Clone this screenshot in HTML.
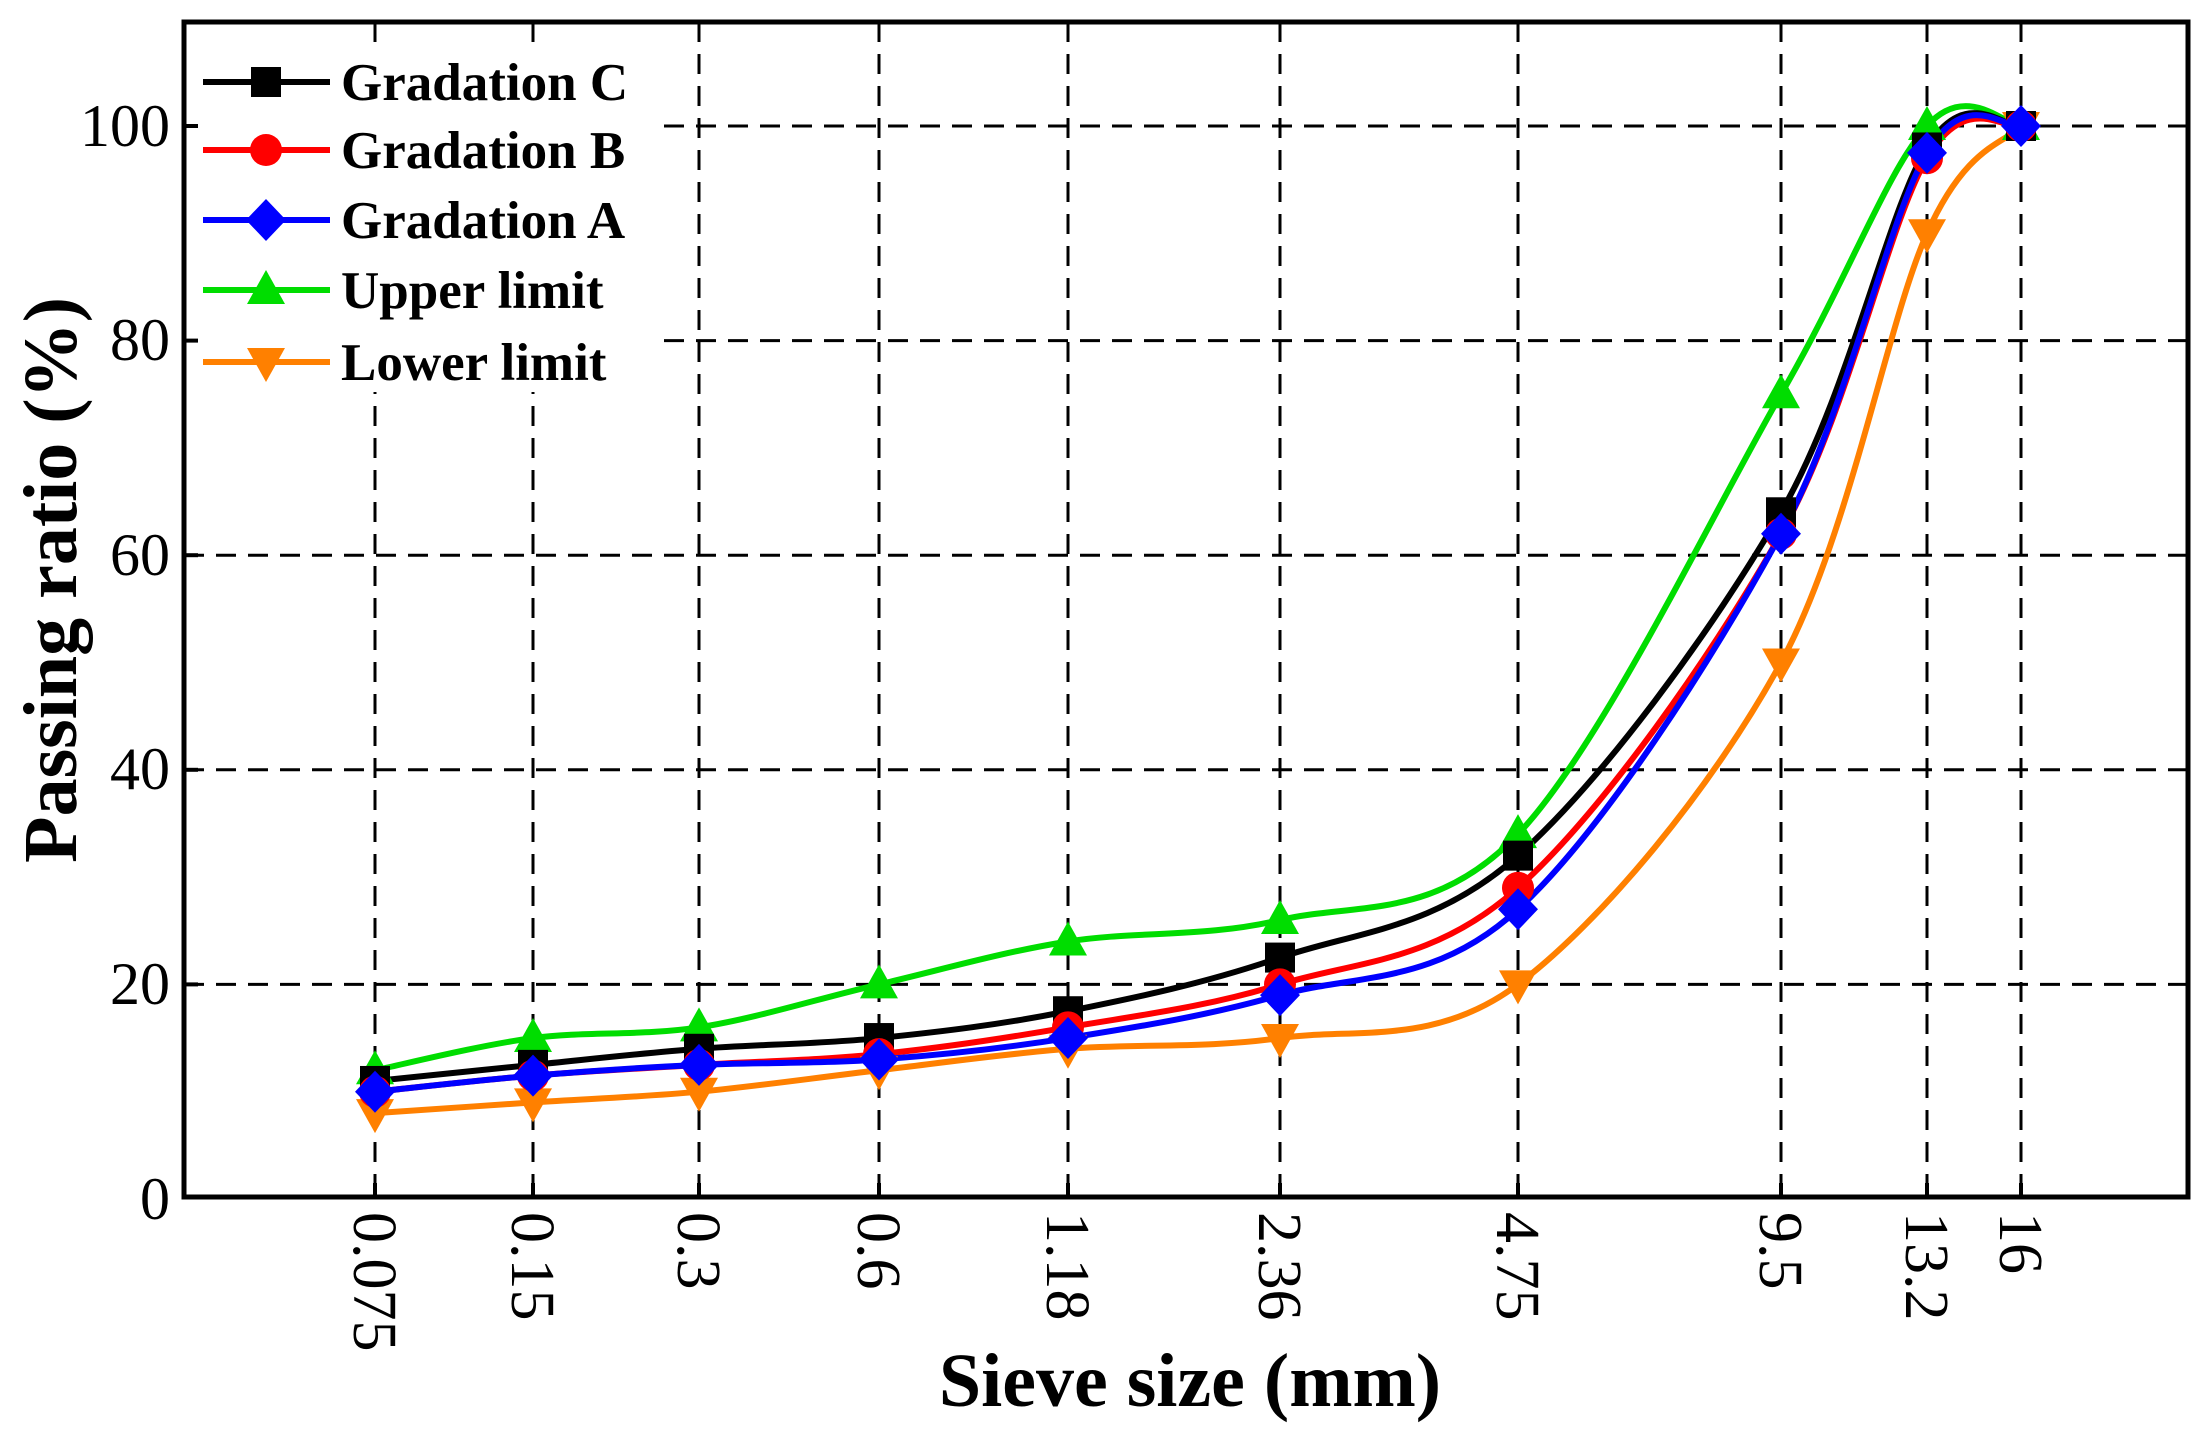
<!DOCTYPE html>
<html><head><meta charset="utf-8"><style>
html,body{margin:0;padding:0;background:#fff;}
svg{display:block;}
text{font-family:"Liberation Serif",serif;}
</style></head><body>
<svg id="s" width="2212" height="1442" viewBox="0 0 2212 1442" xmlns="http://www.w3.org/2000/svg">
<rect width="2212" height="1442" fill="#fff"/>
<g id="grid" stroke="#000" stroke-width="3" stroke-dasharray="20,12" fill="none"></g>
<g id="curves" fill="none" stroke-width="6"></g>
<g id="marks"></g>
<rect x="195" y="52" width="460" height="340" fill="#fff"/>
<g id="legend"></g>
<rect x="184" y="22" width="2004" height="1175" fill="none" stroke="#000" stroke-width="5"/>
<g id="ticks" stroke="#000" stroke-width="4"></g>
<g font-size="60" fill="#000" text-anchor="end">
<text x="170" y="1219">0</text>
<text x="170" y="1004">20</text>
<text x="170" y="789">40</text>
<text x="170" y="575">60</text>
<text x="170" y="360">80</text>
<text x="170" y="146">100</text>
</g>
<g id="xl" font-size="62" fill="#000"></g>
<text x="1190" y="1406" font-size="76" font-weight="bold" text-anchor="middle">Sieve size (mm)</text>
<text transform="translate(76,580) rotate(-90)" font-size="76" font-weight="bold" text-anchor="middle">Passing ratio (%)</text>
</svg>
<script>
const NS="http://www.w3.org/2000/svg";
const X=[375,533,699,879,1068,1280,1518,1781,1927,2021];
const labels=["0.075","0.15","0.3","0.6","1.18","2.36","4.75","9.5","13.2","16"];
const Y=v=>1199-10.73*v;
function el(tag,attrs,parent){const e=document.createElementNS(NS,tag);for(const k in attrs)e.setAttribute(k,attrs[k]);parent.appendChild(e);return e;}
const grid=document.getElementById('grid'),ticks=document.getElementById('ticks'),xl=document.getElementById('xl');
for(let v=20;v<=100;v+=20){el('line',{x1:184,x2:2188,y1:Y(v),y2:Y(v)},grid);el('line',{x1:184,x2:198,y1:Y(v),y2:Y(v)},ticks);}
X.forEach((x,i)=>{el('line',{x1:x,x2:x,y1:22,y2:1197},grid);el('line',{x1:x,x2:x,y1:1183,y2:1197},ticks);
 const t=el('text',{transform:`translate(${x-21},1212) rotate(90)`},xl);t.textContent=labels[i];});
const series=[
 {c:"#ff8000",m:"tdown",d:[8,9,10,12,14,15,20,50,90,100]},
 {c:"#00dd00",m:"tup",d:[12,15,16,20,24,26,34,75,100,100]},
 {c:"#000000",m:"sq",d:[11,12.5,14,15,17.5,22.5,32,64,98,100]},
 {c:"#ff0000",m:"ci",d:[10,11.5,12.5,13.5,16,20,29,62,97,100]},
 {c:"#0000ff",m:"di",d:[10,11.5,12.5,13,15,19,27,62,97.5,100]},
];
function path(pts){let d=`M${pts[0][0]},${pts[0][1]}`;
 for(let i=0;i<pts.length-1;i++){const p0=pts[Math.max(i-1,0)],p1=pts[i],p2=pts[i+1],p3=pts[Math.min(i+2,pts.length-1)];
  const c1=[p1[0]+(p2[0]-p0[0])/6,p1[1]+(p2[1]-p0[1])/6],c2=[p2[0]-(p3[0]-p1[0])/6,p2[1]-(p3[1]-p1[1])/6];
  d+=`C${c1[0]},${c1[1]} ${c2[0]},${c2[1]} ${p2[0]},${p2[1]}`;}return d;}
function marker(m,x,y,c,g){
 if(m=="sq")el('rect',{x:x-15,y:y-15,width:30,height:30,fill:c},g);
 else if(m=="ci")el('circle',{cx:x,cy:y,r:16,fill:c},g);
 else if(m=="di")el('polygon',{points:`${x},${y-21} ${x+20},${y} ${x},${y+21} ${x-20},${y}`,fill:c},g);
 else if(m=="tup")el('polygon',{points:`${x},${y-20} ${x+19},${y+14} ${x-19},${y+14}`,fill:c},g);
 else el('polygon',{points:`${x},${y+20} ${x+19},${y-14} ${x-19},${y-14}`,fill:c},g);}
const cg=document.getElementById('curves'),mg=document.getElementById('marks'),lg=document.getElementById('legend');
series.forEach(s=>{const pts=s.d.map((v,i)=>[X[i],Y(v)]);el('path',{d:path(pts),stroke:s.c},cg);pts.forEach(p=>marker(s.m,p[0],p[1],s.c,mg));});
const leg=[["Gradation C",2,82],["Gradation B",3,150],["Gradation A",4,220],["Upper limit",1,290],["Lower limit",0,362]];
leg.forEach(([n,i,y])=>{const s=series[i];el('line',{x1:203,x2:330,y1:y,y2:y,stroke:s.c,'stroke-width':6},lg);marker(s.m,266,y,s.c,lg);
 const t=el('text',{x:341,y:y+18,'font-size':53,'font-weight':'bold',fill:'#000'},lg);t.textContent=n;});
</script>
</body></html>
